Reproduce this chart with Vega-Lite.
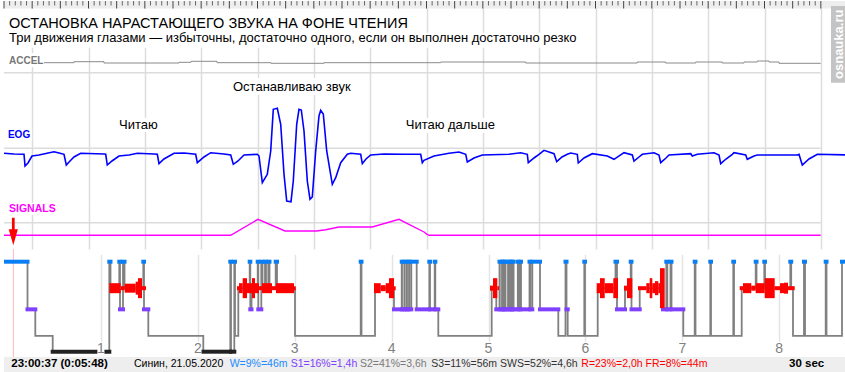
{
"$schema":"https://vega.github.io/schema/vega-lite/v6.json",
"padding":0,
"spacing":0,
"bounds":"flush",
"config":{"view":{"stroke":null},"font":"Liberation Sans"},
"datasets":{
"eog":[{"t":0,"v":-5},{"t":0.355,"v":-5.7},{"t":0.71,"v":-6},{"t":0.746,"v":-17.7},{"t":0.852,"v":-14.7},{"t":0.994,"v":-7.7},{"t":1.243,"v":-6.7},{"t":1.527,"v":-5},{"t":1.775,"v":-3.4},{"t":1.953,"v":-4.7},{"t":2.13,"v":-6},{"t":2.212,"v":-16.7},{"t":2.343,"v":-12.7},{"t":2.485,"v":-8.7},{"t":2.723,"v":-5},{"t":3.55,"v":-5.7},{"t":3.611,"v":-6},{"t":3.667,"v":-16.7},{"t":3.834,"v":-12.7},{"t":4.083,"v":-7.7},{"t":4.438,"v":-6.7},{"t":4.733,"v":-5},{"t":5.325,"v":-5.7},{"t":5.443,"v":-6},{"t":5.503,"v":-15.4},{"t":5.68,"v":-10.7},{"t":6.036,"v":-5},{"t":6.391,"v":-4.7},{"t":6.806,"v":-6},{"t":6.863,"v":-14.4},{"t":7.101,"v":-8.7},{"t":7.338,"v":-4.4},{"t":7.811,"v":-5.7},{"t":8.049,"v":-6.7},{"t":8.141,"v":-16},{"t":8.308,"v":-12.7},{"t":8.521,"v":-6.7},{"t":8.993,"v":-6},{"t":9.053,"v":-7.7},{"t":9.171,"v":-34.4},{"t":9.348,"v":-26},{"t":9.469,"v":-2.7},{"t":9.561,"v":39},{"t":9.703,"v":40},{"t":9.824,"v":24},{"t":9.941,"v":-26},{"t":10.037,"v":-52.7},{"t":10.189,"v":-53.4},{"t":10.271,"v":-32.7},{"t":10.392,"v":24},{"t":10.473,"v":39},{"t":10.555,"v":38.3},{"t":10.651,"v":17.3},{"t":10.768,"v":-32.7},{"t":10.864,"v":-51},{"t":10.946,"v":-48.7},{"t":11.066,"v":-2.7},{"t":11.183,"v":32.3},{"t":11.243,"v":38},{"t":11.336,"v":34.3},{"t":11.457,"v":-2.7},{"t":11.656,"v":-36},{"t":11.776,"v":-29.4},{"t":11.954,"v":-14.4},{"t":12.188,"v":-6},{"t":12.309,"v":-5},{"t":12.664,"v":-6},{"t":12.721,"v":-15.4},{"t":12.852,"v":-10.7},{"t":13.019,"v":-6.7},{"t":13.491,"v":-5.7},{"t":14.201,"v":-6},{"t":14.794,"v":-6},{"t":14.851,"v":-14.4},{"t":14.911,"v":-12},{"t":15.266,"v":-7.7},{"t":15.799,"v":-5},{"t":16.154,"v":-3.7},{"t":16.392,"v":-6},{"t":16.449,"v":-13.7},{"t":16.686,"v":-9.7},{"t":16.981,"v":-6.7},{"t":17.929,"v":-6},{"t":18.344,"v":-4.4},{"t":18.579,"v":-6},{"t":18.614,"v":-14.4},{"t":18.817,"v":-9.7},{"t":18.994,"v":-6},{"t":19.172,"v":-2},{"t":19.527,"v":-5.4},{"t":19.623,"v":-13.4},{"t":19.811,"v":-8.7},{"t":19.999,"v":-6},{"t":20.12,"v":-4.7},{"t":20.354,"v":-6},{"t":20.389,"v":-14.7},{"t":20.592,"v":-9.7},{"t":20.887,"v":-5.4},{"t":21.419,"v":-7.7},{"t":21.657,"v":-11},{"t":22.012,"v":-4.4},{"t":22.307,"v":-6.7},{"t":22.367,"v":-12.7},{"t":22.544,"v":-8.7},{"t":22.662,"v":-6},{"t":23.077,"v":-4.4},{"t":23.254,"v":-6.7},{"t":23.315,"v":-14.4},{"t":23.503,"v":-9.7},{"t":23.609,"v":-6.7},{"t":24.38,"v":-5.4},{"t":24.437,"v":-7.7},{"t":24.614,"v":-6},{"t":25.207,"v":-4.4},{"t":25.385,"v":-6.7},{"t":25.445,"v":-15.4},{"t":25.633,"v":-10.7},{"t":25.857,"v":-6},{"t":25.917,"v":-4.4},{"t":26.333,"v":-6.7},{"t":26.389,"v":-11},{"t":26.627,"v":-7.7},{"t":26.745,"v":-6.7},{"t":28.165,"v":-6.7},{"t":28.225,"v":-6},{"t":28.342,"v":-16.7},{"t":28.58,"v":-10.7},{"t":28.875,"v":-6},{"t":30,"v":-6.7}],
"accel":[{"t":1.42,"a":0.3},{"t":2.485,"a":1.3},{"t":3.55,"a":0},{"t":6.213,"a":0.7},{"t":6.639,"a":1.7},{"t":7.562,"a":0.3},{"t":9.479,"a":-0.3},{"t":11.361,"a":0.3},{"t":15.504,"a":1},{"t":18.522,"a":0},{"t":22.484,"a":1},{"t":23.492,"a":0},{"t":24.558,"a":1},{"t":25.502,"a":0},{"t":26.272,"a":1},{"t":26.745,"a":2},{"t":27.16,"a":1},{"t":27.515,"a":-0.3},{"t":28.995,"a":-0.3}],
"signals":[{"t":0,"s":0},{"t":8.049,"s":0},{"t":9.018,"s":16},{"t":9.976,"s":4.3},{"t":11.088,"s":4.3},{"t":11.421,"s":5.6},{"t":11.894,"s":8.3},{"t":13.076,"s":8.3},{"t":14.024,"s":16},{"t":14.911,"s":3.3},{"t":15.018,"s":1},{"t":15.1,"s":0},{"t":28.995,"s":0}],
"stages":[{"h":0,"stage":"W"},{"h":0.2425,"stage":"S1"},{"h":0.323,"stage":"S2"},{"h":0.5026,"stage":"S3"},{"h":1.0867,"stage":"W"},{"h":1.0991,"stage":"R"},{"h":1.1899,"stage":"W"},{"h":1.1971,"stage":"S1"},{"h":1.2281,"stage":"W"},{"h":1.2436,"stage":"R"},{"h":1.4376,"stage":"W"},{"h":1.4448,"stage":"S1"},{"h":1.4892,"stage":"S2"},{"h":2.0568,"stage":"S3"},{"h":2.3354,"stage":"W"},{"h":2.3426,"stage":"S3"},{"h":2.3767,"stage":"W"},{"h":2.3839,"stage":"S2"},{"h":2.418,"stage":"R"},{"h":2.5356,"stage":"W"},{"h":2.5418,"stage":"S1"},{"h":2.5542,"stage":"R"},{"h":2.6182,"stage":"W"},{"h":2.6244,"stage":"S1"},{"h":2.6553,"stage":"W"},{"h":2.6677,"stage":"R"},{"h":2.6935,"stage":"W"},{"h":2.7038,"stage":"R"},{"h":2.7276,"stage":"W"},{"h":2.7399,"stage":"R"},{"h":2.8039,"stage":"W"},{"h":2.8173,"stage":"R"},{"h":3.0031,"stage":"S2"},{"h":3.6811,"stage":"W"},{"h":3.6894,"stage":"S2"},{"h":3.8287,"stage":"R"},{"h":4.0248,"stage":"S1"},{"h":4.1043,"stage":"W"},{"h":4.1074,"stage":"S1"},{"h":4.1311,"stage":"W"},{"h":4.1342,"stage":"S1"},{"h":4.1558,"stage":"W"},{"h":4.1589,"stage":"S1"},{"h":4.1796,"stage":"W"},{"h":4.1827,"stage":"S1"},{"h":4.2033,"stage":"W"},{"h":4.259,"stage":"S1"},{"h":4.3891,"stage":"W"},{"h":4.3963,"stage":"S1"},{"h":4.4448,"stage":"W"},{"h":4.451,"stage":"S1"},{"h":4.4819,"stage":"S2"},{"h":5.033,"stage":"R"},{"h":5.0805,"stage":"S1"},{"h":5.1135,"stage":"W"},{"h":5.1166,"stage":"S1"},{"h":5.1393,"stage":"W"},{"h":5.1445,"stage":"S1"},{"h":5.1548,"stage":"W"},{"h":5.16,"stage":"S1"},{"h":5.1703,"stage":"W"},{"h":5.1755,"stage":"S1"},{"h":5.2012,"stage":"W"},{"h":5.2043,"stage":"S1"},{"h":5.2219,"stage":"W"},{"h":5.225,"stage":"S1"},{"h":5.2394,"stage":"W"},{"h":5.2425,"stage":"S1"},{"h":5.2559,"stage":"W"},{"h":5.259,"stage":"S1"},{"h":5.3024,"stage":"W"},{"h":5.3096,"stage":"S1"},{"h":5.3282,"stage":"W"},{"h":5.3354,"stage":"S1"},{"h":5.4231,"stage":"W"},{"h":5.4314,"stage":"S1"},{"h":5.452,"stage":"W"},{"h":5.5315,"stage":"S1"},{"h":5.7203,"stage":"S2"},{"h":5.7946,"stage":"W"},{"h":5.805,"stage":"S1"},{"h":5.8173,"stage":"S2"},{"h":5.9886,"stage":"W"},{"h":5.9959,"stage":"S2"},{"h":6.1269,"stage":"R"},{"h":6.3106,"stage":"W"},{"h":6.3261,"stage":"S1"},{"h":6.4087,"stage":"R"},{"h":6.4675,"stage":"W"},{"h":6.4757,"stage":"S1"},{"h":6.5604,"stage":"R"},{"h":6.8008,"stage":"S1"},{"h":6.8349,"stage":"W"},{"h":6.8452,"stage":"S1"},{"h":6.8782,"stage":"W"},{"h":6.8885,"stage":"S1"},{"h":7.0103,"stage":"S2"},{"h":7.128,"stage":"W"},{"h":7.1362,"stage":"S2"},{"h":7.289,"stage":"W"},{"h":7.2962,"stage":"S2"},{"h":7.5263,"stage":"W"},{"h":7.5335,"stage":"S2"},{"h":7.613,"stage":"R"},{"h":7.7575,"stage":"W"},{"h":7.7657,"stage":"R"},{"h":7.8462,"stage":"W"},{"h":7.8535,"stage":"R"},{"h":8.1146,"stage":"W"},{"h":8.1238,"stage":"R"},{"h":8.1424,"stage":"S2"},{"h":8.2559,"stage":"W"},{"h":8.2663,"stage":"S2"},{"h":8.4799,"stage":"W"},{"h":8.4881,"stage":"S2"},{"h":8.6481,"stage":"W"},{"h":8.7203,"stage":"W"}],
"rem":[{"h":1.0867,"h2":1.2043,"rem":10},{"h":1.2043,"h2":1.2456,"rem":4},{"h":1.2456,"h2":1.3591,"rem":9},{"h":1.3591,"h2":1.3829,"rem":13},{"h":1.3829,"h2":1.4241,"rem":20},{"h":1.4241,"h2":1.4654,"rem":4},{"h":2.4045,"h2":2.4252,"rem":4},{"h":2.4252,"h2":2.4634,"rem":10},{"h":2.4634,"h2":2.5077,"rem":20},{"h":2.5077,"h2":2.5593,"rem":10},{"h":2.5593,"h2":2.5903,"rem":20},{"h":2.5903,"h2":2.6316,"rem":10},{"h":2.6316,"h2":2.6625,"rem":4},{"h":2.6625,"h2":2.7657,"rem":10},{"h":2.7657,"h2":2.807,"rem":4},{"h":2.807,"h2":2.8999,"rem":10},{"h":2.8999,"h2":2.9928,"rem":10},{"h":2.9928,"h2":3.0103,"rem":4},{"h":3.8184,"h2":3.8875,"rem":10},{"h":3.8875,"h2":3.9391,"rem":6},{"h":3.9391,"h2":3.9732,"rem":10},{"h":3.9732,"h2":4.0248,"rem":20},{"h":4.0248,"h2":4.0423,"rem":4},{"h":5.0155,"h2":5.0464,"rem":5},{"h":5.0464,"h2":5.0908,"rem":20},{"h":5.0908,"h2":5.1084,"rem":4},{"h":6.1166,"h2":6.1507,"rem":10},{"h":6.1507,"h2":6.1992,"rem":20},{"h":6.1992,"h2":6.2879,"rem":10},{"h":6.2879,"h2":6.3364,"rem":20},{"h":6.3984,"h2":6.4293,"rem":5},{"h":6.4293,"h2":6.484,"rem":20},{"h":6.5428,"h2":6.6285,"rem":4},{"h":6.6285,"h2":6.6636,"rem":10},{"h":6.6636,"h2":6.6904,"rem":20},{"h":6.6904,"h2":6.7183,"rem":10},{"h":6.7183,"h2":6.7523,"rem":14},{"h":6.7523,"h2":6.7699,"rem":10},{"h":6.7699,"h2":6.8184,"rem":40},{"h":7.5923,"h2":7.6264,"rem":4},{"h":7.6264,"h2":7.7121,"rem":10},{"h":7.7121,"h2":7.7575,"rem":5},{"h":7.7575,"h2":7.8504,"rem":10},{"h":7.8504,"h2":7.9536,"rem":20},{"h":7.9536,"h2":8.0083,"rem":4},{"h":8.0083,"h2":8.0495,"rem":10},{"h":8.0495,"h2":8.0908,"rem":11},{"h":8.0908,"h2":8.16,"rem":4}]
},
"vconcat":[
{"width":845,"height":48,"data":{"values":[{}]},
 "layer":[
  {"data":{"values":[0,1,2,3,4,5,6,7,8,9,10,11,12,13,14,15,16,17,18,19,20,21,22,23,24,25,26,27,28,29]},
   "mark":{"type":"rule","color":"#444444","strokeWidth":1},
   "encoding":{"x":{"field":"data","type":"quantitative","scale":{"domain":[0,30],"nice":false,"zero":false},"axis":{"values":[1,2,3,4,5,6,7,8,9,10,11,12,13,14,15,16,17,18,19,20,21,22,23,24,25,26,27,28,29],"grid":true,"gridColor":"#dcdcdc","gridWidth":1.5,"labels":false,"ticks":false,"domain":false,"title":null}},
    "y":{"datum":0,"type":"quantitative","scale":{"domain":[0,48],"reverse":true,"nice":false,"zero":false},"axis":null},"y2":{"datum":0}}},
  {"mark":{"type":"rect","color":"#eeeeee"},
   "encoding":{"x":{"datum":0,"type":"quantitative"},"x2":{"datum":30},"y":{"datum":0,"type":"quantitative"},"y2":{"datum":7.5}}},
  {"mark":{"type":"rect","color":"white"},
   "encoding":{"x":{"datum":0,"type":"quantitative"},"x2":{"datum":14.4},"y":{"datum":8,"type":"quantitative"},"y2":{"datum":31.7}}},
  {"mark":{"type":"rect","color":"white"},
   "encoding":{"x":{"datum":0,"type":"quantitative"},"x2":{"datum":20.75},"y":{"datum":31.7,"type":"quantitative"},"y2":{"datum":46.7}}},
  {"data":{"values":[0.2,0.4,0.6,0.8,1.2,1.4,1.6,1.8,2.2,2.4,2.6,2.8,3.2,3.4,3.6,3.8,4.2,4.4,4.6,4.8,5.2,5.4,5.6,5.8,6.2,6.4,6.6,6.8,7.2,7.4,7.6,7.8,8.2,8.4,8.6,8.8,9.2,9.4,9.6,9.8,10.2,10.4,10.6,10.8,11.2,11.4,11.6,11.8,12.2,12.4,12.6,12.8,13.2,13.4,13.6,13.8,14.2,14.4,14.6,14.8,15.2,15.4,15.6,15.8,16.2,16.4,16.6,16.8,17.2,17.4,17.6,17.8,18.2,18.4,18.6,18.8,19.2,19.4,19.6,19.8,20.2,20.4,20.6,20.8,21.2,21.4,21.6,21.8,22.2,22.4,22.6,22.8,23.2,23.4,23.6,23.8,24.2,24.4,24.6,24.8,25.2,25.4,25.6,25.8,26.2,26.4,26.6,26.8,27.2,27.4,27.6,27.8,28.2,28.4,28.6,28.8]},
   "mark":{"type":"rule","color":"#666666","strokeWidth":1},
   "encoding":{"x":{"field":"data","type":"quantitative"},"y":{"datum":0,"type":"quantitative"},"y2":{"datum":4.5}}},
  {"data":{"values":[0,1,2,3,4,5,6,7,8,9,10,11,12,13,14,15,16,17,18,19,20,21,22,23,24,25,26,27,28,29]},
   "mark":{"type":"rule","color":"#444444","strokeWidth":1},
   "encoding":{"x":{"field":"data","type":"quantitative"},"y":{"datum":0,"type":"quantitative"},"y2":{"datum":7.5}}},
  {"mark":{"type":"text","text":"ОСТАНОВКА НАРАСТАЮЩЕГО ЗВУКА НА ФОНЕ ЧТЕНИЯ","align":"left","baseline":"alphabetic","fontSize":14.5,"color":"black"},
   "encoding":{"x":{"datum":0.178,"type":"quantitative"},"y":{"datum":26.6,"type":"quantitative"}}},
  {"mark":{"type":"text","text":"Три движения глазами — избыточны, достаточно одного, если он выполнен достаточно резко","align":"left","baseline":"alphabetic","fontSize":13,"color":"black"},
   "encoding":{"x":{"datum":0.178,"type":"quantitative"},"y":{"datum":40.8,"type":"quantitative"}}},
  {"mark":{"type":"rect","color":"#c4c4c4"},
   "encoding":{"x":{"datum":29.36,"type":"quantitative"},"x2":{"datum":30},"y":{"datum":5,"type":"quantitative"},"y2":{"datum":81.7}}},
  {"mark":{"type":"text","text":"osnauka.ru","angle":270,"align":"center","baseline":"middle","fontSize":13,"fontWeight":"bold","color":"white"},
   "encoding":{"x":{"datum":29.66,"type":"quantitative"},"y":{"datum":43.3,"type":"quantitative"}}}
 ]},
{"width":845,"height":23,"data":{"values":[{}]},
 "layer":[
  {"data":{"name":"accel"},"mark":{"type":"line","color":"#8a8a8a","strokeWidth":1,"interpolate":"step-after"},
   "encoding":{"x":{"field":"t","type":"quantitative","scale":{"domain":[0,30],"nice":false,"zero":false},"axis":{"values":[1,2,3,4,5,6,7,8,9,10,11,12,13,14,15,16,17,18,19,20,21,22,23,24,25,26,27,28,29],"grid":true,"gridColor":"#dcdcdc","gridWidth":1.5,"labels":false,"ticks":false,"domain":false,"title":null}},
    "y":{"field":"a","type":"quantitative","scale":{"domain":[-9,14],"nice":false,"zero":false},"axis":null}}},
  {"mark":{"type":"rect","color":"white"},
   "encoding":{"x":{"datum":0.1,"type":"quantitative"},"x2":{"datum":1.4},"y":{"datum":10,"type":"quantitative"},"y2":{"datum":-4}}},
  {"mark":{"type":"text","text":"ACCEL","align":"left","baseline":"alphabetic","fontSize":10,"fontWeight":"bold","color":"#777777"},
   "encoding":{"x":{"datum":0.178,"type":"quantitative"},"y":{"datum":-1.3,"type":"quantitative"}}}
 ]},
{"width":845,"height":131,"data":{"values":[{}]},
 "layer":[
  {"data":{"values":[0,75.6]},"mark":{"type":"rule","color":"#dcdcdc","strokeWidth":1.5},
   "encoding":{"x":{"datum":0,"type":"quantitative","scale":{"domain":[0,30],"nice":false,"zero":false}},"x2":{"datum":29},
    "y":{"field":"data","type":"quantitative","scale":{"domain":[-54.7,76.3],"nice":false,"zero":false},"axis":null}}},
  {"data":{"name":"eog"},"mark":{"type":"line","color":"#0000ff","strokeWidth":1.6},
   "encoding":{"x":{"field":"t","type":"quantitative","axis":{"values":[1,2,3,4,5,6,7,8,9,10,11,12,13,14,15,16,17,18,19,20,21,22,23,24,25,26,27,28,29],"grid":true,"gridColor":"#dcdcdc","gridWidth":1.5,"labels":false,"ticks":false,"domain":false,"title":null}},
    "y":{"field":"v","type":"quantitative"}}},
  {"mark":{"type":"rect","color":"white"},
   "encoding":{"x":{"datum":0.1,"type":"quantitative"},"x2":{"datum":1.0},"y":{"datum":20.3,"type":"quantitative"},"y2":{"datum":7.3}}},
  {"mark":{"type":"rect","color":"white"},
   "encoding":{"x":{"datum":4.01,"type":"quantitative"},"x2":{"datum":5.57},"y":{"datum":30.3,"type":"quantitative"},"y2":{"datum":16.3}}},
  {"mark":{"type":"rect","color":"white"},
   "encoding":{"x":{"datum":8.06,"type":"quantitative"},"x2":{"datum":12.6},"y":{"datum":70.3,"type":"quantitative"},"y2":{"datum":53.3}}},
  {"mark":{"type":"rect","color":"white"},
   "encoding":{"x":{"datum":14.2,"type":"quantitative"},"x2":{"datum":17.57},"y":{"datum":30.3,"type":"quantitative"},"y2":{"datum":15.3}}},
  {"mark":{"type":"text","text":"EOG","align":"left","baseline":"alphabetic","fontSize":10,"fontWeight":"bold","color":"#0000ff"},
   "encoding":{"x":{"datum":0.14,"type":"quantitative"},"y":{"datum":10.6,"type":"quantitative"}}},
  {"mark":{"type":"text","text":"Читаю","align":"left","baseline":"alphabetic","fontSize":13,"color":"black"},
   "encoding":{"x":{"datum":4.083,"type":"quantitative"},"y":{"datum":19,"type":"quantitative"}}},
  {"mark":{"type":"text","text":"Останавливаю звук","align":"left","baseline":"alphabetic","fontSize":13,"color":"black"},
   "encoding":{"x":{"datum":8.13,"type":"quantitative"},"y":{"datum":57.8,"type":"quantitative"}}},
  {"mark":{"type":"text","text":"Читаю дальше","align":"left","baseline":"alphabetic","fontSize":13,"color":"black"},
   "encoding":{"x":{"datum":14.262,"type":"quantitative"},"y":{"datum":19,"type":"quantitative"}}}
 ]},
{"width":845,"height":46,"data":{"values":[{}]},
 "layer":[
  {"mark":{"type":"rule","color":"#dcdcdc","strokeWidth":1.5},
   "encoding":{"x":{"datum":0,"type":"quantitative","scale":{"domain":[0,30],"nice":false,"zero":false}},"x2":{"datum":29},
    "y":{"datum":12.6,"type":"quantitative","scale":{"domain":[-13.7,32.3],"nice":false,"zero":false},"axis":null}}},
  {"data":{"name":"signals"},"mark":{"type":"line","color":"#ff00ff","strokeWidth":1.4},
   "encoding":{"x":{"field":"t","type":"quantitative","axis":{"values":[1,2,3,4,5,6,7,8,9,10,11,12,13,14,15,16,17,18,19,20,21,22,23,24,25,26,27,28,29],"grid":true,"gridColor":"#dcdcdc","gridWidth":1.5,"labels":false,"ticks":false,"domain":false,"title":null}},
    "y":{"field":"s","type":"quantitative"}}},
  {"mark":{"type":"rect","color":"white"},
   "encoding":{"x":{"datum":0.1,"type":"quantitative"},"x2":{"datum":1.95},"y":{"datum":32.3,"type":"quantitative"},"y2":{"datum":20.3}}},
  {"mark":{"type":"text","text":"SIGNALS","align":"left","baseline":"alphabetic","fontSize":10.5,"fontWeight":"bold","color":"#ff00ff"},
   "encoding":{"x":{"datum":0.178,"type":"quantitative"},"y":{"datum":23.3,"type":"quantitative"}}},
  {"mark":{"type":"point","shape":"M-0.1,-1L0.1,-1L0.1,-0.16L0.33,-0.16L0,1L-0.33,-0.16L-0.1,-0.16Z","filled":true,"color":"#ff0000","opacity":1,"size":762},
   "encoding":{"x":{"datum":0.33,"type":"quantitative"},"y":{"datum":3.8,"type":"quantitative"}}}
 ]},
{"width":845,"height":108,"data":{"values":[{}]},
 "layer":[
  {"mark":{"type":"rule","color":"#ffb8c6","strokeWidth":1},
   "encoding":{"x":{"datum":0.0967,"type":"quantitative","scale":{"domain":[0,8.7203],"nice":false,"zero":false}}}},
  {"data":{"name":"stages"},"mark":{"type":"line","color":"#808080","strokeWidth":1.8,"interpolate":"step-after"},
   "encoding":{"x":{"field":"h","type":"quantitative","axis":{"values":[1,2,3,4,5,6,7,8],"grid":true,"gridColor":"#e4e4e4","gridWidth":1.5,"labels":false,"ticks":false,"domain":false,"title":null}},
    "y":{"field":"stage","type":"nominal","scale":{"type":"point","domain":["W","_1","_2","_3","_4","R","_5","_6","_7","S1","_8","_9","_10","_11","S2","_12","_13","S3"],"range":[12.7,102.7],"padding":0},"axis":null},
    "order":{"field":"h","type":"quantitative"}}},
  {"data":{"name":"stages"},
   "transform":[{"window":[{"op":"lead","field":"h","as":"h2"}],"sort":[{"field":"h","order":"ascending"}]},{"filter":"datum.h2 != null && (datum.stage == 'W' || datum.stage == 'S1' || datum.stage == 'S3')"}],
   "mark":{"type":"rule","strokeWidth":4,"strokeCap":"square","clip":true},
   "encoding":{"x":{"field":"h","type":"quantitative"},"x2":{"field":"h2"},"y":{"field":"stage","type":"nominal"},
    "color":{"field":"stage","type":"nominal","scale":{"domain":["W","S1","S3"],"range":["#0a7ff5","#8040ff","#222222"]},"legend":null}}},
  {"data":{"name":"rem"},"mark":{"type":"rule","color":"#ff0000","strokeCap":"butt"},
   "encoding":{"x":{"field":"h","type":"quantitative"},"x2":{"field":"h2"},"y":{"datum":"R","type":"nominal"},
    "size":{"field":"rem","type":"quantitative","scale":{"type":"linear","domain":[0,40],"range":[0,40]},"legend":null}}},
  {"data":{"values":[1,2,3,4,5,6,7,8]},"mark":{"type":"point","shape":"M-0.44,-1.25L0.44,-1.25L0.44,0.375L-0.44,0.375Z","filled":true,"color":"white","opacity":1,"size":256},
   "encoding":{"x":{"field":"data","type":"quantitative"},"y":{"datum":"S3","type":"nominal"}}},
  {"data":{"values":[1,2,3,4,5,6,7,8]},"mark":{"type":"text","align":"center","baseline":"alphabetic","dy":1,"fontSize":14,"color":"#808080"},
   "encoding":{"x":{"field":"data","type":"quantitative"},"y":{"datum":"S3","type":"nominal"},"text":{"field":"data","type":"quantitative"}}}
 ]},
{"width":845,"height":16,"data":{"values":[{}]},
 "layer":[
  {"mark":{"type":"rect","color":"#eeeeee"},
   "encoding":{"x":{"datum":0,"type":"quantitative","scale":{"domain":[0,8.7203],"nice":false,"zero":false},"axis":null},"x2":{"datum":8.7203},
    "y":{"datum":0,"type":"quantitative","scale":{"domain":[0,16],"reverse":true,"nice":false,"zero":false},"axis":null},"y2":{"datum":16}}},
  {"mark":{"type":"text","text":"23:00:37 (0:05:48)","align":"left","baseline":"alphabetic","fontSize":11.5,"fontWeight":"bold","color":"black"},
   "encoding":{"x":{"datum":0.0753,"type":"quantitative","axis":null},"y":{"datum":10.3,"type":"quantitative"}}},
  {"mark":{"type":"text","text":"Синин, 21.05.2020","align":"left","baseline":"alphabetic","fontSize":10.5,"color":"black"},
   "encoding":{"x":{"datum":1.3416,"type":"quantitative","axis":null},"y":{"datum":10.3,"type":"quantitative"}}},
  {"mark":{"type":"text","text":"W=9%=46m","align":"left","baseline":"alphabetic","fontSize":10.5,"color":"#1a8cff"},
   "encoding":{"x":{"datum":2.3292,"type":"quantitative","axis":null},"y":{"datum":10.3,"type":"quantitative"}}},
  {"mark":{"type":"text","text":"S1=16%=1,4h","align":"left","baseline":"alphabetic","fontSize":10.5,"color":"#7f3fff"},
   "encoding":{"x":{"datum":2.9587,"type":"quantitative","axis":null},"y":{"datum":10.3,"type":"quantitative"}}},
  {"mark":{"type":"text","text":"S2=41%=3,6h","align":"left","baseline":"alphabetic","fontSize":10.5,"color":"#7a7a7a"},
   "encoding":{"x":{"datum":3.674,"type":"quantitative","axis":null},"y":{"datum":10.3,"type":"quantitative"}}},
  {"mark":{"type":"text","text":"S3=11%=56m SWS=52%=4,6h","align":"left","baseline":"alphabetic","fontSize":10.5,"color":"#333333"},
   "encoding":{"x":{"datum":4.4097,"type":"quantitative","axis":null},"y":{"datum":10.3,"type":"quantitative"}}},
  {"mark":{"type":"text","text":"R=23%=2,0h FR=8%=44m","align":"left","baseline":"alphabetic","fontSize":10.5,"color":"#ff0000"},
   "encoding":{"x":{"datum":5.9577,"type":"quantitative","axis":null},"y":{"datum":10.3,"type":"quantitative"}}},
  {"mark":{"type":"text","text":"30 sec","align":"left","baseline":"alphabetic","fontSize":11.5,"fontWeight":"bold","color":"black"},
   "encoding":{"x":{"datum":8.1011,"type":"quantitative","axis":null},"y":{"datum":10.3,"type":"quantitative"}}}
 ]}
]
}
